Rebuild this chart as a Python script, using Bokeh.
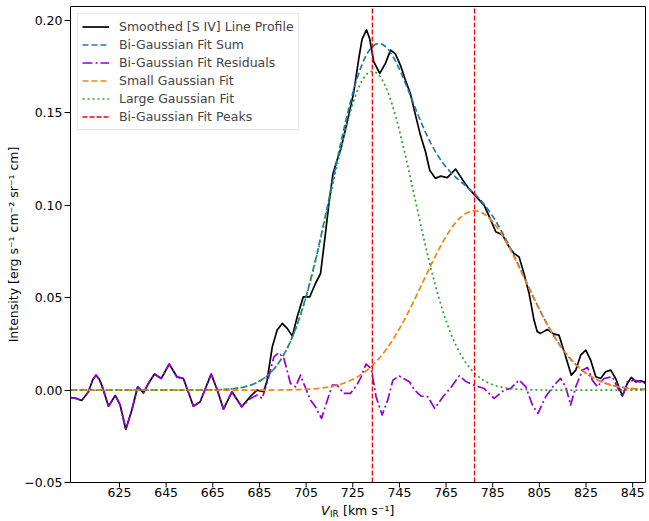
import math
import numpy as np
from bokeh.plotting import figure
from bokeh.models import Range1d, FixedTicker, CustomJSTickFormatter, Label, Legend, LegendItem
from bokeh.core.properties import value
from bokeh.embed import file_html
from bokeh.resources import INLINE

# Smoothed [S IV] line profile (velocity km/s, intensity)
profile_v = [604.0, 606.5, 608.8, 611.7, 613.5, 614.9, 616.3, 617.4, 620.3, 623.2,
             625.3, 627.7, 630.3, 632.8, 635.3, 637.4, 640.0, 642.9, 646.3, 649.6,
             652.4, 656.7, 659.6, 664.3, 666.7, 669.6, 673.2, 677.4, 681.0, 683.9,
             686.8, 688.3, 690.5, 692.6, 694.8, 696.9, 699.1, 701.2, 703.8, 706.6,
             709.0, 711.2, 713.3, 714.7, 716.5, 718.3, 720.0, 722.6, 725.4, 727.6,
             729.0, 730.9, 732.3, 734.0, 736.6, 739.0, 741.2, 743.3, 745.4, 747.6,
             749.7, 751.9, 754.0, 756.2, 758.0, 760.4, 762.7, 765.5, 769.1, 772.0,
             774.8, 777.7, 781.3, 784.2, 786.3, 789.2, 792.0, 794.1, 796.3, 798.4,
             800.6, 802.7, 804.1, 805.5, 808.4, 811.3, 813.4, 816.3, 818.7, 820.6,
             822.7, 824.9, 827.0, 829.2, 831.3, 833.4, 835.6, 837.7, 840.6, 842.7,
             844.4, 846.3, 848.4, 850.5]
profile_i = [-0.0040, -0.0045, -0.0056, -0.0009, 0.0055, 0.0081, 0.0060, 0.0027, -0.0087, -0.0029,
             -0.0081, -0.0213, -0.0108, 0.0018, -0.0015, 0.0036, 0.0087, 0.0063, 0.0141, 0.0072,
             0.0063, -0.0087, -0.0063, 0.0087, 0.0009, -0.0103, -0.0009, -0.0090, -0.0036, 0.0000,
             -0.0009, 0.0054, 0.0234, 0.0325, 0.0361, 0.0334, 0.0292, 0.0397, 0.0505, 0.0505,
             0.0577, 0.0631, 0.0848, 0.1000, 0.1170, 0.1245, 0.1310, 0.1450, 0.1610, 0.1795,
             0.1900, 0.1950, 0.1900, 0.1777, 0.1714, 0.1768, 0.1840, 0.1820, 0.1759, 0.1677,
             0.1605, 0.1488, 0.1380, 0.1290, 0.1190, 0.1146, 0.1158, 0.1150, 0.1196, 0.1140,
             0.1090, 0.1050, 0.1001, 0.0920, 0.0857, 0.0839, 0.0775, 0.0740, 0.0721, 0.0631,
             0.0523, 0.0379, 0.0316, 0.0307, 0.0328, 0.0303, 0.0298, 0.0180, 0.0081, 0.0108,
             0.0189, 0.0216, 0.0162, 0.0072, 0.0063, 0.0099, 0.0108, 0.0063, -0.0032, 0.0036,
             0.0069, 0.0045, 0.0050, 0.0042]

# Bi-Gaussian fit residuals where they depart from the profile (v > 680 km/s)
resid_v = [681.2, 684.0, 686.2, 689.0, 691.2, 693.3, 695.5, 698.3, 700.5, 702.6,
           704.0, 706.9, 709.0, 711.6, 716.2, 718.3, 721.1, 724.0, 726.9, 728.6,
           730.7, 732.9, 735.0, 737.6, 740.0, 742.2, 745.0, 749.3, 751.5, 754.3,
           757.2, 760.1, 763.7, 767.3, 770.6, 773.7, 778.0, 781.3, 785.6, 789.9,
           792.7, 796.3, 799.2, 802.0, 804.4, 807.7, 811.3, 814.1, 816.3, 818.4,
           820.6, 823.5, 825.6, 827.7, 829.9, 832.7, 836.3, 838.4, 840.6, 842.7,
           845.6, 850.5]
resid_i = [-0.0045, -0.0027, -0.0045, 0.0072, 0.0180, 0.0202, 0.0171, 0.0036, 0.0018, 0.0081,
           0.0036, -0.0054, -0.0090, -0.0153, 0.0027, 0.0027, -0.0018, -0.0018, 0.0030, 0.0072,
           0.0141, 0.0117, -0.0036, -0.0135, -0.0054, 0.0054, 0.0076, 0.0045, 0.0000, -0.0032,
           -0.0036, -0.0099, -0.0036, 0.0018, 0.0077, 0.0045, 0.0022, 0.0009, -0.0045, 0.0000,
           0.0009, 0.0054, 0.0018, -0.0081, -0.0126, -0.0036, 0.0027, 0.0063, 0.0018, -0.0081,
           0.0018, 0.0108, 0.0123, 0.0054, 0.0018, 0.0063, 0.0072, 0.0018, -0.0036, 0.0045,
           0.0054, 0.0036]

# Fitted Gaussian parameters (amplitude, centre, sigma)
small_amp, small_center, small_sigma = 0.097, 777.2, 22.0
large_amp, large_center, large_sigma = 0.1725, 733.4, 18.1
peak_v = [733.4, 777.2]

x_ticks = [625, 645, 665, 685, 705, 725, 745, 765, 785, 805, 825, 845]
x_tick_labels = ["625", "645", "665", "685", "705", "725", "745", "765", "785", "805", "825", "845"]
y_ticks = [-0.05, 0.0, 0.05, 0.10, 0.15, 0.20]
x_lim = (604.0, 850.5)
y_lim = (-0.05, 0.2076)

FONT = "DejaVu Sans"
FS = "12.5px"

# layout (pixels)
W, H = 649, 521
AX_L, AX_R, AX_T, AX_B = 70, 645, 6, 482   # axes box in the page
px_x = (AX_R - AX_L) / (x_lim[1] - x_lim[0])
px_y = (AX_B - AX_T) / (y_lim[1] - y_lim[0])

v_grid = np.linspace(x_lim[0], x_lim[1], 600)
small_fit = small_amp * np.exp(-(v_grid - small_center) ** 2 / (2 * small_sigma ** 2))
large_fit = large_amp * np.exp(-(v_grid - large_center) ** 2 / (2 * large_sigma ** 2))
sum_fit = small_fit + large_fit

pv = np.array(profile_v)
pi = np.array(profile_i)
mask = pv < 679.0
res_v = list(pv[mask]) + resid_v
res_i = list(pi[mask]) + resid_i

# the frame reaches the bottom of the page so that the x tick labels and
# the x label (drawn as text in data space) are not clipped
x_range = Range1d(x_lim[0] - 1 / px_x, x_lim[1] + 1 / px_x)
y_range = Range1d(y_lim[0] - (H - AX_B) / px_y, y_lim[1] + 1 / px_y)

p = figure(width=W, height=H, x_range=x_range, y_range=y_range,
           output_backend="svg", toolbar_location=None, x_axis_location=None,
           min_border_left=AX_L - 1, min_border_right=W - AX_R - 1,
           min_border_top=AX_T - 1, min_border_bottom=0)
for g in p.grid:
    g.visible = False
p.xgrid.visible = False
p.ygrid.visible = False
p.outline_line_color = None
p.background_fill_color = "white"
p.border_fill_color = "white"

ax = p.yaxis
ax.ticker = FixedTicker(ticks=y_ticks)
ax.formatter = CustomJSTickFormatter(code="return tick.toFixed(2).replace('-', '\u2212');")
ax.axis_line_color = None
ax.major_tick_out = 5
ax.major_tick_in = 1
ax.minor_tick_out = 0
ax.minor_tick_in = 0
ax.major_tick_line_color = "black"
ax.major_label_text_font = FONT
ax.major_label_text_font_size = FS
ax.major_label_text_color = "black"
ax.major_label_standoff = 2

r_prof = p.line(profile_v, profile_i, line_color="black", line_width=1.7, line_join="round")
r_sum = p.line(v_grid, sum_fit, line_color="#1f77b4", line_width=1.7, line_dash="6 3")
r_res = p.line(res_v, res_i, line_color="#9400d3", line_width=1.7, line_dash="10 3 2 3", line_join="round")
r_small = p.line(v_grid, small_fit, line_color="#ff7f0e", line_width=1.7, line_dash="6 3")
r_large = p.line(v_grid, large_fit, line_color="#2ca02c", line_width=1.7, line_dash="2 3")
r_peaks = p.segment(x0=peak_v, y0=[y_lim[0]] * len(peak_v), x1=peak_v, y1=[y_lim[1]] * len(peak_v),
                    line_color="red", line_width=1.3, line_dash="5 2")

# axes box (spines)
p.quad(left=[x_lim[0]], right=[x_lim[1]], bottom=[y_lim[0]], top=[y_lim[1]],
       fill_color=None, line_color="black", line_width=1)

# x ticks and tick labels
p.segment(x0=x_ticks, x1=x_ticks, y0=[y_lim[0]] * len(x_ticks),
          y1=[y_lim[0] - 5 / px_y] * len(x_ticks), line_color="black", line_width=1)
p.text(x=x_ticks, y=[y_lim[0] - 5 / px_y] * len(x_ticks), text=x_tick_labels,
       text_font=value(FONT), text_font_size=value(FS), text_color="black",
       text_align="center", text_baseline="top")

legend = Legend(items=[
    LegendItem(label="Smoothed [S IV] Line Profile", renderers=[r_prof]),
    LegendItem(label="Bi-Gaussian Fit Sum", renderers=[r_sum]),
    LegendItem(label="Bi-Gaussian Fit Residuals", renderers=[r_res]),
    LegendItem(label="Small Gaussian Fit", renderers=[r_small]),
    LegendItem(label="Large Gaussian Fit", renderers=[r_large]),
    LegendItem(label="Bi-Gaussian Fit Peaks", renderers=[r_peaks]),
], location="top_left")
legend.label_text_font = FONT
legend.label_text_font_size = FS
legend.glyph_width = 27
legend.glyph_height = 17
legend.label_height = 17
legend.spacing = 1
legend.padding = 4
legend.margin = 8
legend.label_standoff = 10
legend.border_line_color = "#cccccc"
legend.border_line_width = 1
legend.background_fill_alpha = 0.8
p.add_layout(legend)

# x label: V_IR [km s^-1]
x0 = (AX_L + AX_R) / 2 - 37
for txt, dx, yy, fs, style in [("V", 0, 510, FS, "italic"),
                               ("IR", 9, 513, "8.75px", "normal"),
                               ("[km s\u207b\u00b9]", 22, 510, FS, "normal")]:
    p.add_layout(Label(x=x0 + dx, y=yy, x_units="canvas", y_units="canvas", text=txt,
                       text_font=FONT, text_font_size=fs, text_font_style=style,
                       text_baseline="middle", text_align="left", text_color="black"))

# y label
p.add_layout(Label(x=13, y=(AX_T + AX_B) / 2, x_units="canvas", y_units="canvas",
                   text="Intensity [erg s\u207b\u00b9 cm\u207b\u00b2 sr\u207b\u00b9 cm]",
                   angle=math.pi / 2, text_font=FONT, text_font_size=FS,
                   text_baseline="middle", text_align="center", text_color="black"), "left")

open("out.html", "w").write(file_html(p, INLINE))
